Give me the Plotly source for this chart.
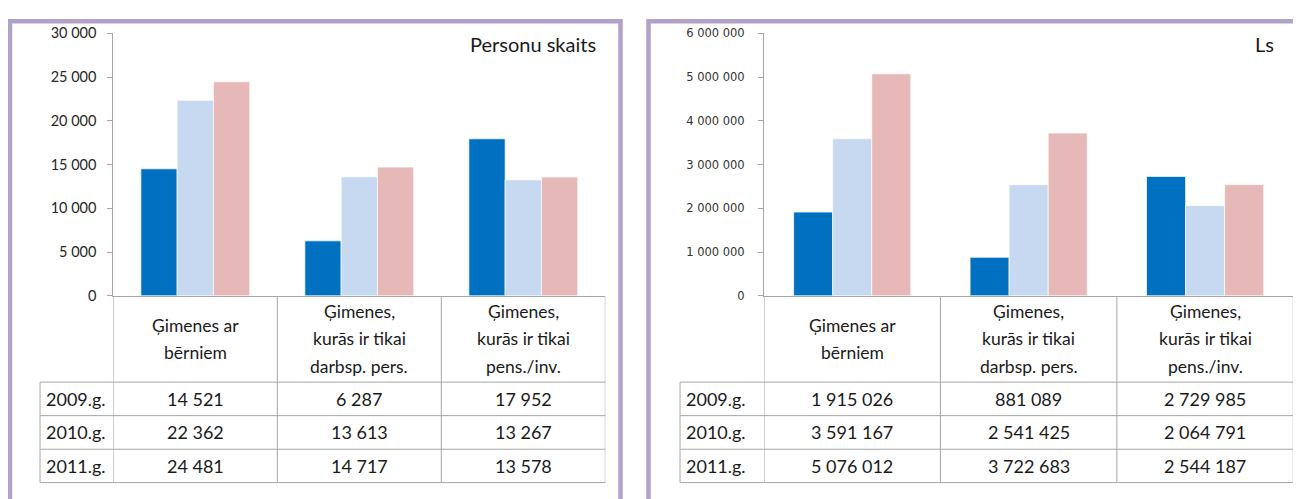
import plotly.graph_objects as go

W, H = 1301, 499
# the page shows the figure 8px in from the top-left corner
OFFSET = 8

categories = [
    "Ģimenes ar bērniem",
    "Ģimenes, kurās ir tikai darbsp. pers.",
    "Ģimenes, kurās ir tikai pens./inv.",
]
category_lines = [
    ["Ģimenes ar", "bērniem"],
    ["Ģimenes,", "kurās ir tikai", "darbsp. pers."],
    ["Ģimenes,", "kurās ir tikai", "pens./inv."],
]
years = ["2009.g.", "2010.g.", "2011.g."]
year_colors = ["#0070C0", "#C6D9F1", "#E6B9B8"]

persons = {
    "2009.g.": [14521, 6287, 17952],
    "2010.g.": [22362, 13613, 13267],
    "2011.g.": [24481, 14717, 13578],
}
amounts = {
    "2009.g.": [1915026, 881089, 2729985],
    "2010.g.": [3591167, 2541425, 2064791],
    "2011.g.": [5076012, 3722683, 2544187],
}

GRID = "#A6A6A6"
FONT = "Lato"
TEXT = "#1a1a1a"


def px_x(v):
    return (v - OFFSET) / W


def px_y(v):
    return 1 - (v - OFFSET) / H


def fmt(v):
    return f"{v:,}".replace(",", " ")


fig = go.Figure()

panels = [
    dict(data=persons, xa="x", ya="y", x0=113.3, x1=605.3, label_x=40, text_x=44,
         border=(10, 620.5), unit="Personu skaits", unit_x=598),
    dict(data=amounts, xa="x2", ya="y2", x0=764, x1=1293.3, label_x=680, text_x=684,
         border=(648.5, 1330), unit="Ls", unit_x=1276),
]

for p in panels:
    for year, color in zip(years, year_colors):
        fig.add_trace(go.Bar(
            x=categories,
            y=p["data"][year],
            name=year,
            marker=dict(color=color, line=dict(color="rgba(255,255,255,0.7)", width=1)),
            xaxis=p["xa"],
            yaxis=p["ya"],
            showlegend=False))

shapes = []
annotations = []

y_top, y_zero = 25, 296.7
row_lines = [386, 420.7, 455.5, 490]

for p in panels:
    xref = p["xa"]
    # panel frame
    shapes.append(dict(
        type="rect", xref="paper", yref="paper",
        x0=px_x(p["border"][0]), x1=px_x(p["border"][1]),
        y0=-0.2, y1=px_y(12.5),
        line=dict(color="#B3A2C7", width=4.5), layer="below"))

    # table vertical lines at category boundaries
    for b in [-0.5, 0.5, 1.5, 2.5]:
        shapes.append(dict(
            type="line", xref=xref, yref="paper",
            x0=b, x1=b, y0=px_y(y_zero), y1=px_y(row_lines[-1]),
            line=dict(color=GRID, width=1)))
    # row label column left edge
    shapes.append(dict(
        type="line", xref="paper", yref="paper",
        x0=px_x(p["label_x"]), x1=px_x(p["label_x"]),
        y0=px_y(row_lines[0]), y1=px_y(row_lines[-1]),
        line=dict(color=GRID, width=1)))
    # horizontal row lines
    for ry in row_lines:
        shapes.append(dict(
            type="line", xref="paper", yref="paper",
            x0=px_x(p["label_x"]), x1=px_x(p["x1"]),
            y0=px_y(ry), y1=px_y(ry),
            line=dict(color=GRID, width=1)))

    # header cells
    head_mid = (y_zero + row_lines[0]) / 2
    for cat, lines in zip(categories, category_lines):
        n = len(lines)
        for i, line in enumerate(lines):
            cy = head_mid + (i - (n - 1) / 2) * 28
            annotations.append(dict(
                x=cat, y=px_y(cy), xref=xref, yref="paper",
                text=line, showarrow=False,
                font=dict(family=FONT, size=17.5, color=TEXT),
                xanchor="center", yanchor="middle"))

    # data rows
    for r, year in enumerate(years):
        cy = (row_lines[r] + row_lines[r + 1]) / 2
        annotations.append(dict(
            x=px_x(p["text_x"]), y=px_y(cy), xref="paper", yref="paper",
            text=year, showarrow=False,
            font=dict(family=FONT, size=18, color=TEXT),
            xanchor="left", yanchor="middle"))
        for cat, v in zip(categories, p["data"][year]):
            annotations.append(dict(
                x=cat, y=px_y(cy), xref=xref, yref="paper",
                text=fmt(v), showarrow=False,
                font=dict(family=FONT, size=18, color=TEXT),
                xanchor="center", yanchor="middle"))

    # unit label
    annotations.append(dict(
        x=px_x(p["unit_x"]), y=px_y(36), xref="paper", yref="paper",
        text=p["unit"], showarrow=False,
        font=dict(family=FONT, size=20, color=TEXT),
        xanchor="right", yanchor="middle"))

xaxis_common = dict(
    type="category", range=[-0.5, 2.5], showticklabels=False, ticks="",
    showline=True, linecolor=GRID, linewidth=1, showgrid=False, zeroline=False,
    fixedrange=True)
yaxis_common = dict(
    showline=True, linecolor=GRID, linewidth=1, ticks="outside", ticklen=5,
    tickcolor=GRID, showgrid=False, zeroline=False, tickformat=",d",
    fixedrange=True)

fig.update_layout(
    width=W, height=H,
    margin=dict(l=0, r=0, t=0, b=0),
    paper_bgcolor="white", plot_bgcolor="rgba(0,0,0,0)",
    barmode="group", bargap=0.336, bargroupgap=0,
    separators=". ",
    xaxis=dict(xaxis_common, domain=[px_x(113.3), px_x(605.3)], anchor="y"),
    yaxis=dict(yaxis_common, domain=[px_y(y_zero), px_y(y_top)], anchor="x",
               range=[0, 30000], dtick=5000, ticklabelstandoff=8,
               tickfont=dict(family=FONT, size=14.5, color="#262626")),
    xaxis2=dict(xaxis_common, domain=[px_x(764), px_x(1293.3)], anchor="y2"),
    yaxis2=dict(yaxis_common, domain=[px_y(y_zero), px_y(y_top)], anchor="x2",
                range=[0, 6000000], dtick=1000000, ticklabelstandoff=11,
                tickfont=dict(family="DejaVu Sans", size=11.5, color="#333333")),
    shapes=shapes,
    annotations=annotations,
)

fig.write_html("out.html")
